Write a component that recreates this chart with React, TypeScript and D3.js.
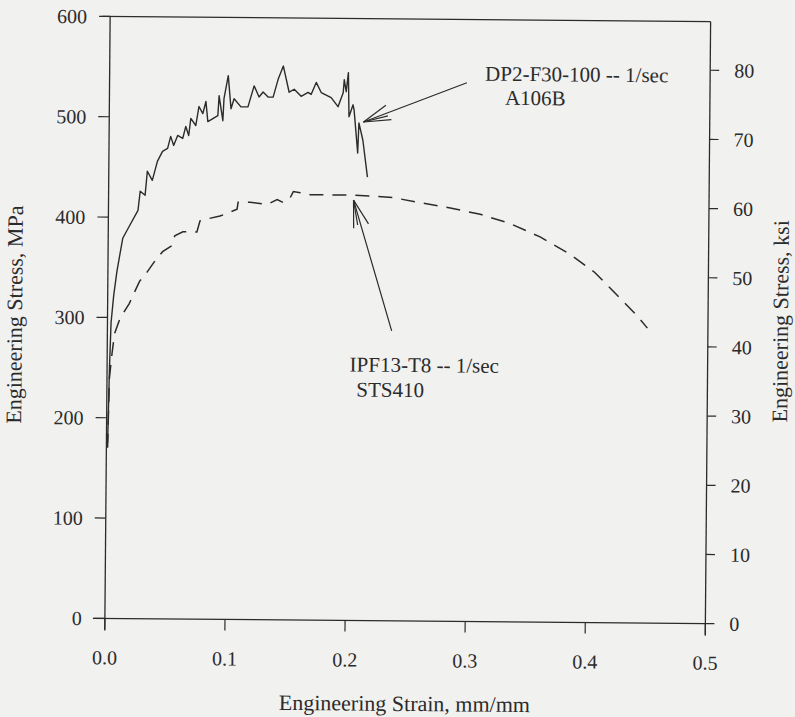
import React from "react";
import * as d3 from "d3";

// ---- data (strain mm/mm, stress MPa) ----
const a106bCurve: [number, number][] = [
  [0.001,175],[0.002,250],[0.003,295],[0.005,322],[0.0075,346],[0.0121,379],[0.0179,392],[0.0246,407],
  [0.0263,426],[0.0304,422],[0.0321,446],[0.0363,437],[0.0404,456],[0.0446,466],[0.0488,469],[0.0513,481],
  [0.0538,472],[0.0571,482],[0.0613,479],[0.0638,491],[0.0663,482],[0.0679,499],[0.0721,492],[0.0746,511],
  [0.0779,504],[0.0804,516],[0.0821,496],[0.0863,499],[0.0904,502],[0.0913,522],[0.0946,497],[0.0954,519],
  [0.0988,542],[0.1013,509],[0.1038,519],[0.1096,511],[0.1154,511],[0.1204,532],[0.1246,521],[0.1279,526],
  [0.1321,521],[0.1363,521],[0.1404,539],[0.1446,552],[0.1496,526],[0.1538,529],[0.1596,522],[0.1654,526],
  [0.1679,524],[0.1721,536],[0.1763,526],[0.1846,521],[0.1904,512],[0.1946,526],[0.1954,539],[0.1971,527],
  [0.1988,546],[0.1996,502],[0.2029,514],[0.2038,509],[0.2071,466],[0.2079,496],[0.2113,479],[0.2154,442],
];

const sts410Curve: [number, number][] = [
  [0.001,170],[0.002,239],[0.004,264],[0.006,284],[0.0104,299],[0.018,314],[0.0263,336],[0.0329,346],
  [0.0404,359],[0.0454,366],[0.0529,372],[0.0554,382],[0.0621,386],[0.0738,386],[0.0763,397],[0.0821,399],
  [0.0929,402],[0.1013,406],[0.1071,409],[0.1079,416],[0.1179,416],[0.1321,414],[0.1404,419],[0.1454,416],
  [0.1513,421],[0.1538,427],[0.1596,426],[0.1679,424],[0.1904,424],[0.2038,424],[0.2204,423],[0.2363,422],
  [0.2596,417],[0.2846,412],[0.3096,406],[0.3346,397],[0.3596,384],[0.3846,367],[0.4054,349],[0.4238,327],
  [0.4404,307],[0.4496,294],
];

const strainTicks = [0, 0.1, 0.2, 0.3, 0.4, 0.5];
const mpaTicks = [0, 100, 200, 300, 400, 500, 600];
const ksiTicks = [0, 10, 20, 30, 40, 50, 60, 70, 80];
const MPA_PER_KSI = 6.894757;

const labelA106B = ["DP2-F30-100 -- 1/sec", "A106B"];
const labelSTS410 = ["IPF13-T8 -- 1/sec", "STS410"];
// annotation arrows in data units: [tail, tip]
const arrowA106B: [number, number][] = [[0.2975, 537], [0.2117, 497]];
const arrowSTS410: [number, number][] = [[0.2367, 289], [0.204, 419]];

const xTitle = "Engineering Strain, mm/mm";
const yTitle = "Engineering Stress, MPa";
const y2Title = "Engineering Stress, ksi";

export default function App() {
  const W = 795, H = 717;
  const L = 107.5, R = 708, T = 19, B = 621;
  const x = d3.scaleLinear().domain([0, 0.5]).range([L, R]);
  const y = d3.scaleLinear().domain([0, 600]).range([B, T]);
  const yKsi = d3.scaleLinear().domain([0, 600 / MPA_PER_KSI]).range([B, T]);
  const line = d3.line<[number, number]>().x(d => x(d[0])).y(d => y(d[1]));
  const ink = "#2b2b2b";
  const font = "'Liberation Serif', 'Times New Roman', serif";
  const fmt = d3.format(".1f");

  const arrow = (pts: [number, number][], key: string) => {
    const [tail, tip] = pts;
    const tx = x(tip[0]), ty = y(tip[1]);
    const sx = x(tail[0]), sy = y(tail[1]);
    const ang = Math.atan2(sy - ty, sx - tx);
    const len = 28, spread = 0.28;
    const b1 = [tx + len * Math.cos(ang + spread), ty + len * Math.sin(ang + spread)];
    const b2 = [tx + len * Math.cos(ang - spread), ty + len * Math.sin(ang - spread)];
    const b3 = [tx + len * 0.9 * Math.cos(ang + 0.12), ty + len * 0.9 * Math.sin(ang + 0.12)];
    return (
      <g key={key} stroke={ink} strokeWidth={1.2} fill="none">
        <line x1={sx} y1={sy} x2={tx} y2={ty} />
        <line x1={tx} y1={ty} x2={b1[0]} y2={b1[1]} />
        <line x1={tx} y1={ty} x2={b2[0]} y2={b2[1]} />
        <line x1={tx} y1={ty} x2={b3[0]} y2={b3[1]} />
      </g>
    );
  };

  return (
    <svg width={W} height={H} style={{ position: "absolute", left: 0, top: 0 }}
      fontFamily={font}>
      <rect x={0} y={0} width={W} height={H} fill="#f1f1f0" />
      <g transform="rotate(0.5 405 320)" fill={ink}>
        {/* frame */}
        <g stroke={ink} strokeWidth={1.3} fill="none">
          <line x1={L} y1={T} x2={L} y2={B + 12} />
          <line x1={L - 12} y1={B} x2={R} y2={B} />
          <line x1={R} y1={T} x2={R} y2={B + 12} />
          <line x1={L - 8} y1={T} x2={R} y2={T} />
        </g>
        {/* left axis */}
        {mpaTicks.map(t => (
          <g key={"m" + t}>
            <line x1={L - 11} x2={L} y1={y(t)} y2={y(t)} stroke={ink} strokeWidth={1.2} />
            <text x={L - 23} y={y(t)} dy="0.35em" textAnchor="end" fontSize={20}>{t}</text>
          </g>
        ))}
        {/* right axis */}
        {ksiTicks.map(t => (
          <g key={"k" + t}>
            <line x1={R} x2={R + 9} y1={yKsi(t)} y2={yKsi(t)} stroke={ink} strokeWidth={1.2} />
            <text x={R + 24} y={yKsi(t)} dy="0.35em" textAnchor="start" fontSize={20}>{t}</text>
          </g>
        ))}
        {/* bottom axis */}
        {strainTicks.map(t => (
          <g key={"s" + t}>
            <line x1={x(t)} x2={x(t)} y1={B} y2={B + 11} stroke={ink} strokeWidth={1.2} />
            <text x={x(t)} y={B + 46} textAnchor="middle" fontSize={20}>{fmt(t)}</text>
          </g>
        ))}
        {/* titles */}
        <text x={(L + R) / 2} y={711} textAnchor="middle" fontSize={22}>{xTitle}</text>
        <text transform="translate(22,318) rotate(-90)" textAnchor="middle" fontSize={22}>{yTitle}</text>
        <text transform="translate(788,318) rotate(-90)" textAnchor="middle" fontSize={22}>{y2Title}</text>
        {/* curves */}
        <path d={line(a106bCurve) || ""} fill="none" stroke={ink} strokeWidth={1.4} strokeLinejoin="round" />
        <path d={line(sts410Curve) || ""} fill="none" stroke={ink} strokeWidth={1.5} strokeDasharray="14 9" />
        {/* annotations */}
        {arrow(arrowA106B, "a1")}
        {arrow(arrowSTS410, "a2")}
        <text x={483} y={80} fontSize={21}>{labelA106B[0]}</text>
        <text x={503} y={104} fontSize={21}>{labelA106B[1]}</text>
        <text x={350} y={372} fontSize={21}>{labelSTS410[0]}</text>
        <text x={357} y={397} fontSize={21}>{labelSTS410[1]}</text>
      </g>
    </svg>
  );
}
